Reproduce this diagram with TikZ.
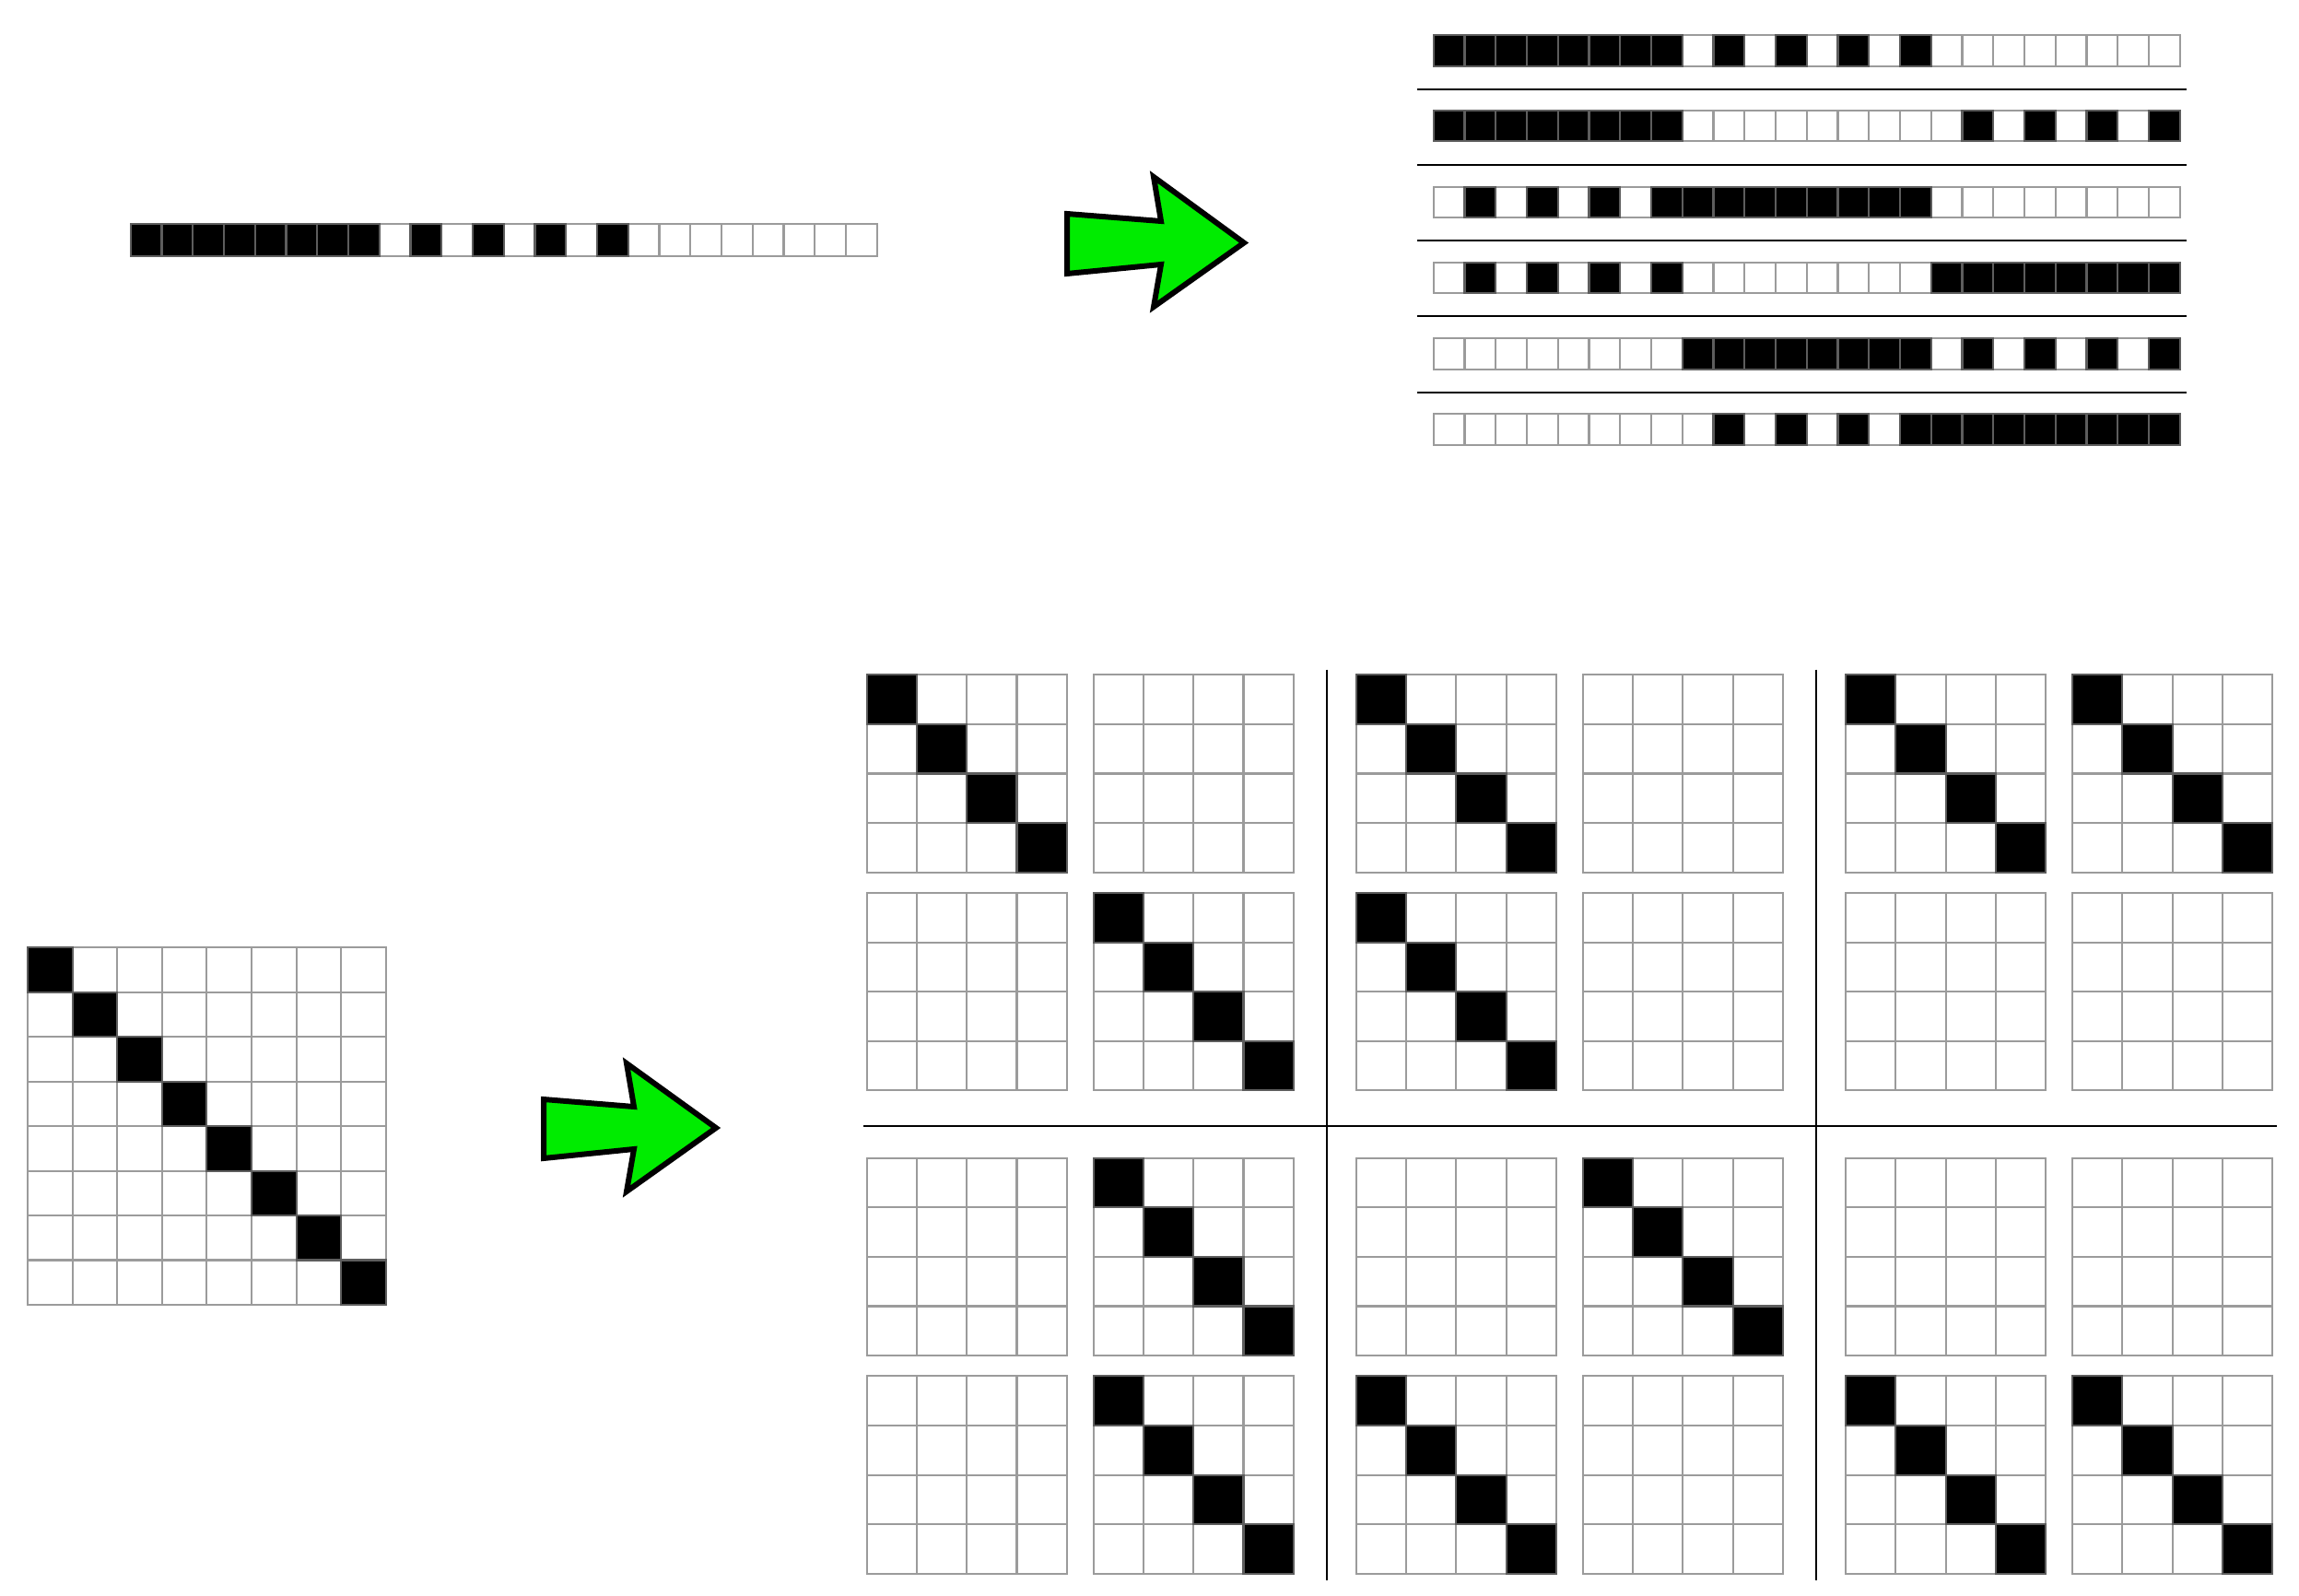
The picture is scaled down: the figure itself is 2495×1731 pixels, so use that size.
\documentclass[tikz,border=0pt]{standalone}
\definecolor{cellgray}{RGB}{155,155,155}
\definecolor{arrowgreen}{RGB}{0,236,0}
\tikzset{
  cell/.style={draw=cellgray, line width=0.6pt, fill=white},
  oncell/.style={draw=cellgray!60!black, line width=0.6pt, fill=black},
  sepline/.style={draw=black, line width=0.55pt},
  bigarrow/.style={draw=black, fill=arrowgreen, line width=1.7pt, line join=miter},
}
% strip of 24 cells: #1 x, #2 top y, #3 height, #4 list of black cells
\newcommand\cellstrip[4]{%
  \foreach \i in {0,...,23} {\path[cell] ({#1+\i*33.75},#2) rectangle ++(33.75,#3);}
  \foreach \i in {#4} {\path[oncell] ({#1+\i*33.75},#2) rectangle ++(33.75,#3);}
}
% square grid: #1 x, #2 y, #3 n, #4 cell w, #5 cell h, #6 1 = identity
\newcommand\gridmat[6]{%
  \pgfmathtruncatemacro\nmlast{#3-1}%
  \foreach \r in {0,...,\nmlast} {\foreach \c in {0,...,\nmlast} {\path[cell] ({#1+\c*#4},{#2+\r*#5}) rectangle ++(#4,#5);}}%
  \ifnum#6=1 \foreach \r in {0,...,\nmlast} {\path[oncell] ({#1+\r*#4},{#2+\r*#5}) rectangle ++(#4,#5);}\fi
}
\newcommand\smallmat[3]{\gridmat{#1}{#2}{4}{54.25}{53.6}{#3}}
\begin{document}
\begin{tikzpicture}[x=0.01cm, y=-0.01cm]
\useasboundingbox (0,0) rectangle (2495,1731);

% ---- top: vector -> six shifted vectors
\cellstrip{141.7}{242.7}{35.6}{0,1,2,3,4,5,6,7,9,11,13,15}

\draw[bigarrow] (1158,232) -- (1260,240) -- (1252,192) -- (1350,263.5) -- (1252,333) -- (1260,287) -- (1158,297) -- cycle;

\cellstrip{1555.7}{38.3}{33.4}{0,1,2,3,4,5,6,7,9,11,13,15}
\cellstrip{1555.7}{120}{33.4}{0,1,2,3,4,5,6,7,17,19,21,23}
\cellstrip{1555.7}{202.7}{33.4}{1,3,5,7,8,9,10,11,12,13,14,15}
\cellstrip{1555.7}{285}{33.4}{1,3,5,7,16,17,18,19,20,21,22,23}
\cellstrip{1555.7}{367.3}{33.4}{8,9,10,11,12,13,14,15,17,19,21,23}
\cellstrip{1555.7}{449.3}{33.4}{9,11,13,15,16,17,18,19,20,21,22,23}

\coordinate (sl1) at (1538.3,97.3);  \coordinate (sr1) at (2373.3,97.3);
\coordinate (sl2) at (1538.3,179.3); \coordinate (sr2) at (2373.3,179.3);
\coordinate (sl3) at (1538.3,261.3); \coordinate (sr3) at (2373.3,261.3);
\coordinate (sl4) at (1538.3,343.3); \coordinate (sr4) at (2373.3,343.3);
\coordinate (sl5) at (1538.3,426);   \coordinate (sr5) at (2373.3,426);
\foreach \k in {1,...,5} {\draw[sepline] (sl\k) -- (sr\k);}

% ---- bottom: identity -> block matrix
\gridmat{30}{1028.3}{8}{48.6}{48.46}{1}

\draw[bigarrow] (590,1193) -- (688,1201) -- (680,1154) -- (777,1224) -- (680,1293) -- (688,1247) -- (590,1257) -- cycle;

% row 0
\smallmat{940.7}{732.3}{1}
\smallmat{1186.7}{732.3}{0}
\smallmat{1471.9}{732.3}{1}
\smallmat{1717.9}{732.3}{0}
\smallmat{2003.1}{732.3}{1}
\smallmat{2249.1}{732.3}{1}
% row 1
\smallmat{940.7}{969}{0}
\smallmat{1186.7}{969}{1}
\smallmat{1471.9}{969}{1}
\smallmat{1717.9}{969}{0}
\smallmat{2003.1}{969}{0}
\smallmat{2249.1}{969}{0}
% row 2
\smallmat{940.7}{1256.7}{0}
\smallmat{1186.7}{1256.7}{1}
\smallmat{1471.9}{1256.7}{0}
\smallmat{1717.9}{1256.7}{1}
\smallmat{2003.1}{1256.7}{0}
\smallmat{2249.1}{1256.7}{0}
% row 3
\smallmat{940.7}{1493.4}{0}
\smallmat{1186.7}{1493.4}{1}
\smallmat{1471.9}{1493.4}{1}
\smallmat{1717.9}{1493.4}{0}
\smallmat{2003.1}{1493.4}{1}
\smallmat{2249.1}{1493.4}{1}

\coordinate (v1t) at (1440,726.7);   \coordinate (v1b) at (1440,1715);
\coordinate (v2t) at (1971.2,726.7); \coordinate (v2b) at (1971.2,1715);
\coordinate (hl) at (937,1222.3);    \coordinate (hr) at (2471,1222.3);
\draw[sepline] (v1t) -- (v1b);
\draw[sepline] (v2t) -- (v2b);
\draw[sepline] (hl) -- (hr);
\end{tikzpicture}
\end{document}
